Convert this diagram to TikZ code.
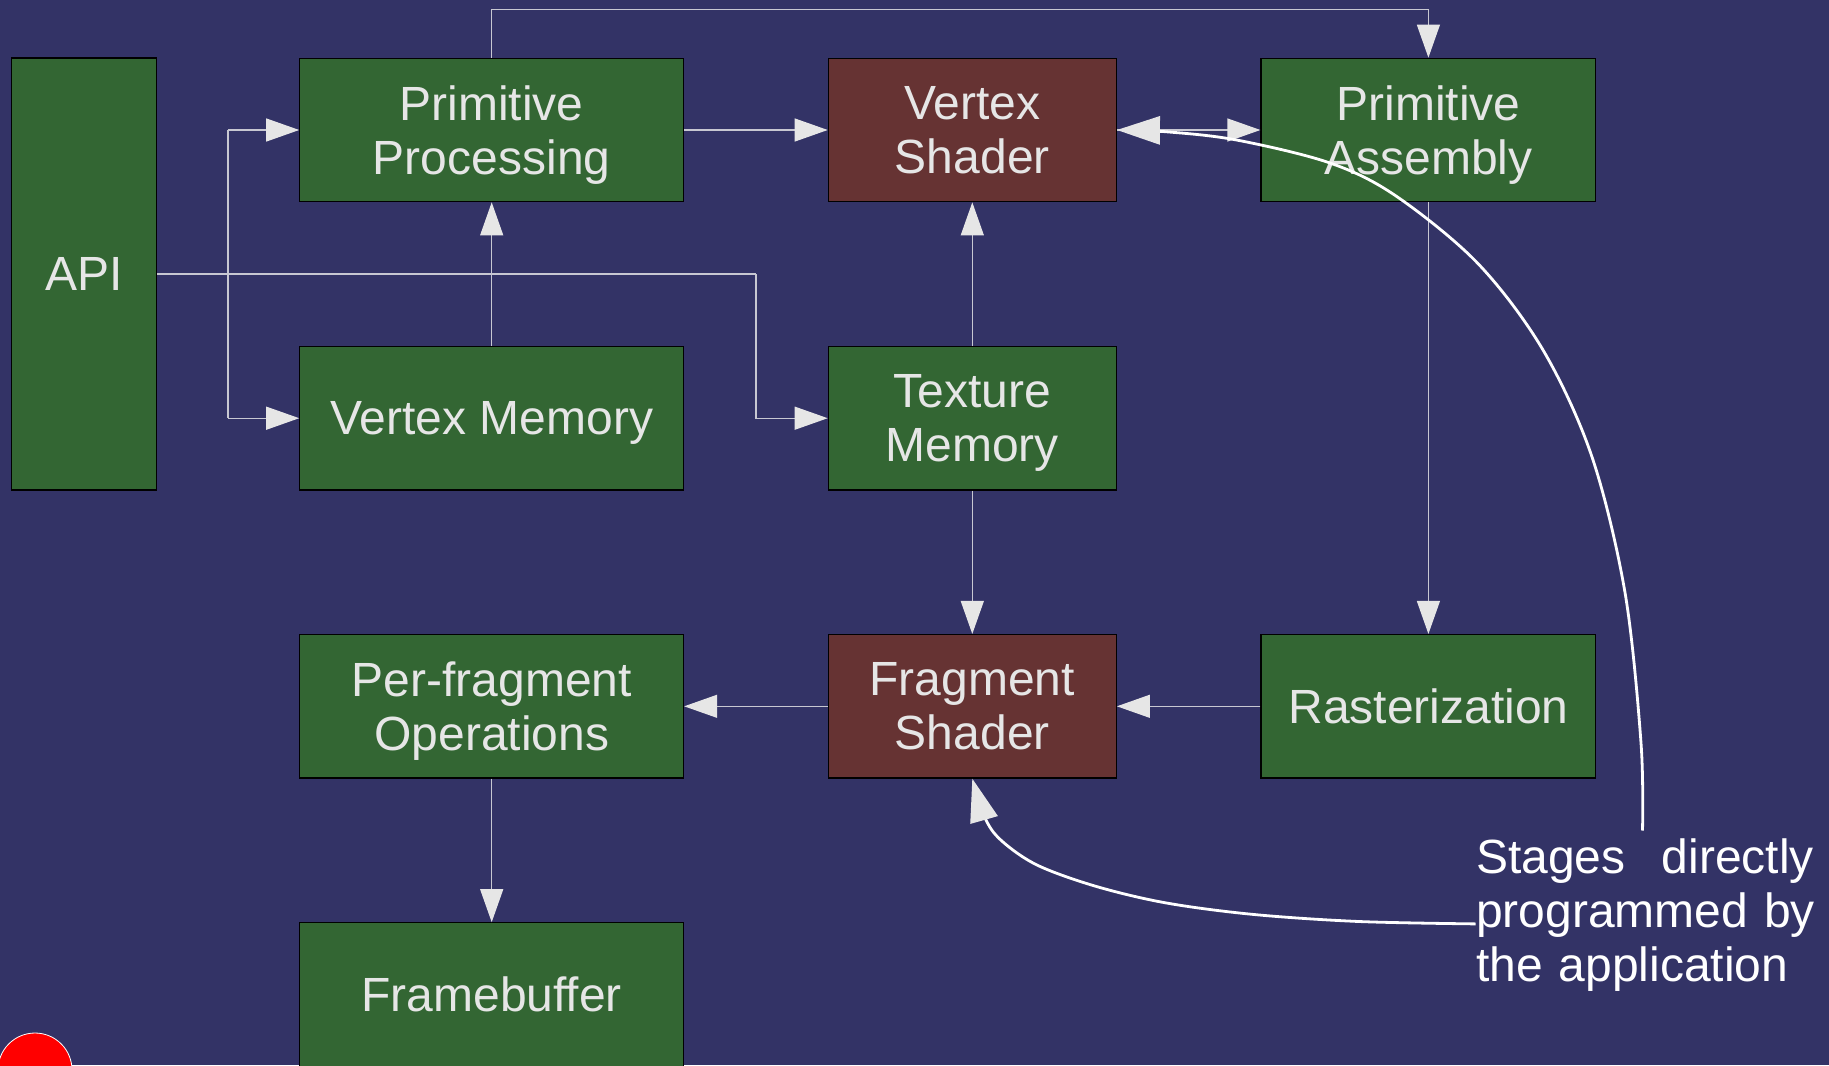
\documentclass[tikz,border=0pt]{standalone}
\usepackage{fontspec}
\setmainfont{Liberation Sans}
\usetikzlibrary{arrows.meta,positioning,calc}

\definecolor{bgblue}{HTML}{333366}
\definecolor{stagegreen}{HTML}{336633}
\definecolor{shaderred}{HTML}{663333}
\definecolor{boxtext}{HTML}{E6E6E6}
\definecolor{wiregray}{HTML}{C8C8D2}
\definecolor{tipgray}{HTML}{E6E6E6}

\newcommand\stagefont{\fontsize{24}{27}\selectfont}

\tikzset{
  stage/.style={draw=black, fill=stagegreen, text=boxtext, font=\stagefont,
    align=center, inner sep=0pt, text depth=0pt, line width=0.6pt,
    minimum height=71.75pt},
  shader/.style={stage, fill=shaderred},
  wire/.style={draw=wiregray, line width=0.6pt},
  link/.style={wire, -{Triangle[length=16.5pt,width=11.5pt,color=tipgray]}},
  callout/.style={draw=white, line width=1.4pt,
    -{Triangle[length=21.5pt,width=14pt,color=tipgray]}}
}

\begin{document}
\begin{tikzpicture}[x=0.5pt,y=-0.5pt]
  \clip (0,0) rectangle (1829,1065);
  \fill[bgblue] (0,0) rectangle (1829,1065);

  % pipeline stages
  \node[stage, minimum width=72.3pt, minimum height=215.9pt] (api) at (84,274) {API};
  \node[stage, minimum width=191.9pt] (pp) at (491.7,130) {Primitive\\Processing};
  \node[shader, minimum width=144pt] (vs) at (972.3,130) {Vertex\\Shader};
  \node[stage, minimum width=167.4pt] (pa) at (1428.4,130) {Primitive\\Assembly};
  \node[stage, minimum width=191.9pt] (vm) at (491.7,418.2) {Vertex Memory};
  \node[stage, minimum width=144pt] (tm) at (972.3,418.2) {Texture\\Memory};
  \node[stage, minimum width=191.9pt] (pfo) at (491.7,706.3) {Per-fragment\\Operations};
  \node[shader, minimum width=144pt] (fs) at (972.3,706.3) {Fragment\\Shader};
  \node[stage, minimum width=167.4pt] (ras) at (1428.4,706.3) {Rasterization};
  \node[stage, minimum width=191.9pt] (fb) at (491.7,994.5) {Framebuffer};

  % junctions of the api lines and the top rail
  \coordinate (bus) at (228,274);
  \coordinate (turn) at (756,274);
  \coordinate (rail) at (0,9.3);

  % data flow
  \draw[wire] (api.east) -- (turn);
  \draw[link] (turn) |- (tm.west);
  \draw[wire] (bus |- pp.west) -- (bus |- vm.west);
  \draw[link] (bus |- pp.west) -- (pp.west);
  \draw[link] (bus |- vm.west) -- (vm.west);
  \draw[link] (vm.north) -- (pp.south);
  \draw[link] (pp.east) -- (vs.west);
  \draw[link] (pp.north) -- (pp.north |- rail) -| (pa.north);
  \draw[link] (tm.north) -- (vs.south);
  \draw[link] (vs.east) -- (pa.west);
  \draw[link] (pa.south) -- (ras.north);
  \draw[link] (tm.south) -- (fs.north);
  \draw[link] (ras.west) -- (fs.east);
  \draw[link] (fs.west) -- (pfo.east);
  \draw[link] (pfo.south) -- (fb.north);

  % programmable stages note
  \node[text=white, font=\stagefont, text width=169pt, align=left, inner sep=0pt,
    anchor=north west] (note) at (1475.6,838)
    {Stages\hfill directly\\\mbox{programmed by}\\the application};
  \coordinate (noteup) at (1642.5,830.5);
  \coordinate (noteleft) at (1475.6,923.9);
  \draw[callout] plot[smooth, tension=0.55] coordinates {(noteup) (1641,743) (1625,592.6)
    (1592,457) (1543,350) (1478,263.6) (1396,196) (1330,163) (1236.5,140)
    (1166.5,131.8) (vs.east)};
  \draw[callout] plot[smooth, tension=0.55] coordinates {(noteleft) (1359,921.5)
    (1254,914.5) (1166.5,903) (1096.5,886.5) (1038,865.5) (1003,842) (986,820)
    (fs.south)};

  \filldraw[fill=red, draw=white, line width=0.4pt] (35,1070) circle (18.5pt);
\end{tikzpicture}
\end{document}
